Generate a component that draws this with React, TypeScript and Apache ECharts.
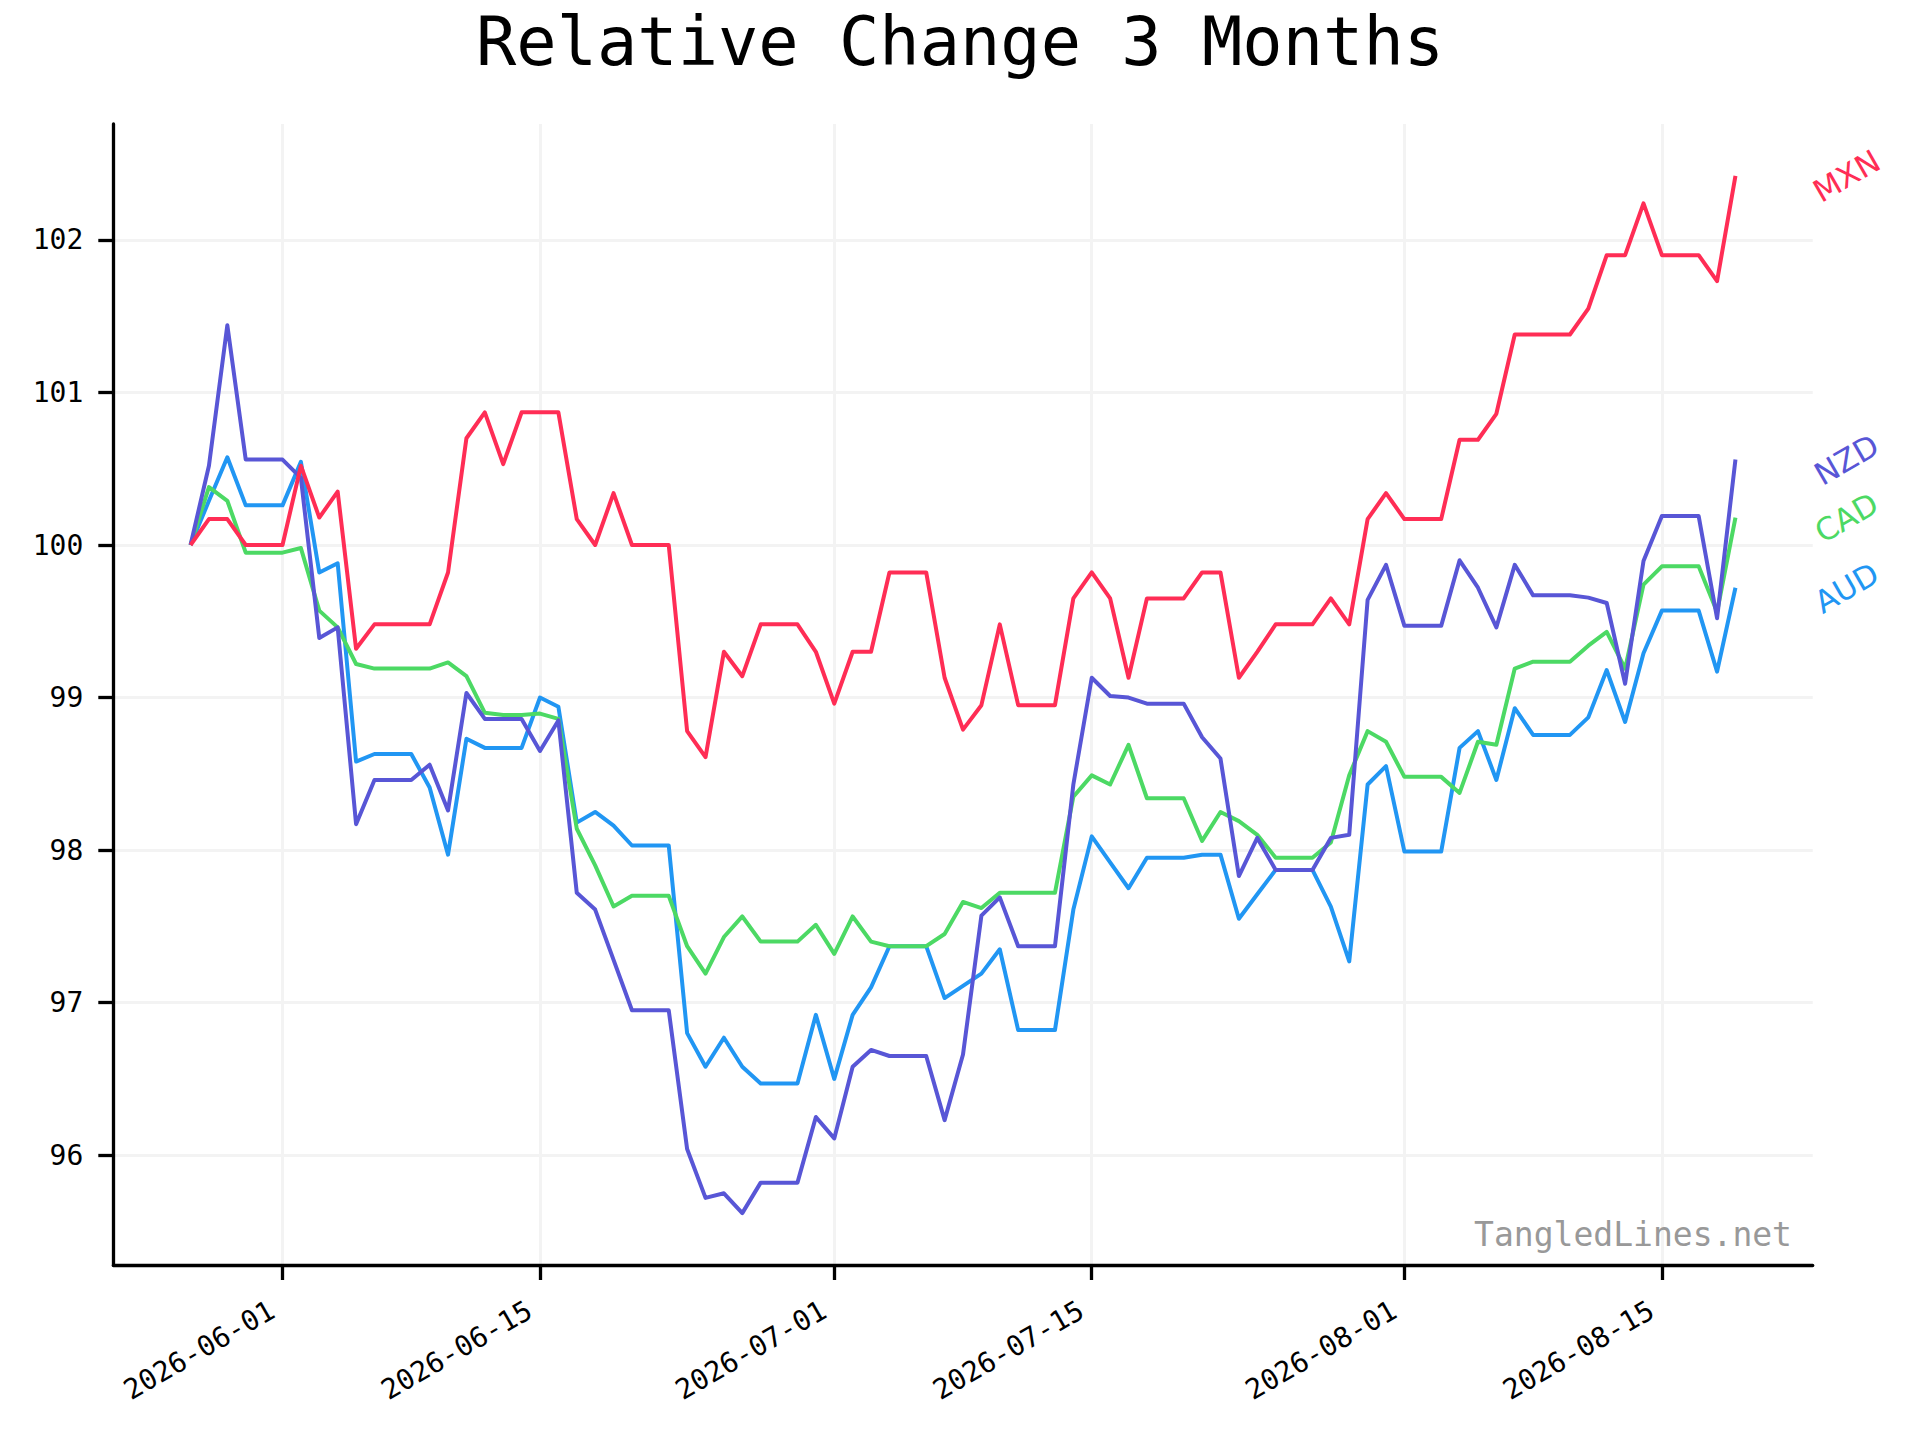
import React, { useEffect, useRef } from "react";
import * as echarts from "echarts";

// ---- data ----
const startDate = "2026-05-27"; // first observation (day index 0)
const tickDates = ["2026-06-01", "2026-06-15", "2026-07-01", "2026-07-15", "2026-08-01", "2026-08-15"];
const yTicks = [96, 97, 98, 99, 100, 101, 102];

const seriesNames = ["AUD", "CAD", "NZD", "MXN"];
const seriesColors = ["#2196F3", "#4CD964", "#5856D6", "#FF2D55"];

const mxn = [
  100.0, 100.17, 100.17, 100.0, 100.0, 100.0, 100.52, 100.18, 100.35, 99.32,
  99.48, 99.48, 99.48, 99.48, 99.82, 100.7, 100.87, 100.53, 100.87, 100.87,
  100.87, 100.17, 100.0, 100.34, 100.0, 100.0, 100.0, 98.78, 98.61, 99.3,
  99.14, 99.48, 99.48, 99.48, 99.3, 98.96, 99.3, 99.3, 99.82, 99.82,
  99.82, 99.13, 98.79, 98.95, 99.48, 98.95, 98.95, 98.95, 99.65, 99.82,
  99.65, 99.13, 99.65, 99.65, 99.65, 99.82, 99.82, 99.13, 99.3, 99.48,
  99.48, 99.48, 99.65, 99.48, 100.17, 100.34, 100.17, 100.17, 100.17, 100.69,
  100.69, 100.86, 101.38, 101.38, 101.38, 101.38, 101.55, 101.9, 101.9, 102.24,
  101.9, 101.9, 101.9, 101.73, 102.42,
];

const nzd = [
  100.0, 100.52, 101.44, 100.56, 100.56, 100.56, 100.44, 99.39, 99.46, 98.17,
  98.46, 98.46, 98.46, 98.56, 98.26, 99.03, 98.86, 98.86, 98.86, 98.65,
  98.85, 97.72, 97.61, 97.28, 96.95, 96.95, 96.95, 96.04, 95.72, 95.75,
  95.62, 95.82, 95.82, 95.82, 96.25, 96.11, 96.58, 96.69, 96.65, 96.65,
  96.65, 96.23, 96.66, 97.57, 97.69, 97.37, 97.37, 97.37, 98.43, 99.13,
  99.01, 99.0, 98.96, 98.96, 98.96, 98.74, 98.6, 97.83, 98.08, 97.87,
  97.87, 97.87, 98.08, 98.1, 99.64, 99.87, 99.47, 99.47, 99.47, 99.9,
  99.72, 99.46, 99.87, 99.67, 99.67, 99.67, 99.655, 99.62, 99.09, 99.895,
  100.19, 100.19, 100.19, 99.52, 100.56,
];

const cad = [
  100.0, 100.38, 100.29, 99.95, 99.95, 99.95, 99.98, 99.57, 99.46, 99.22,
  99.19, 99.19, 99.19, 99.19, 99.23, 99.14, 98.9, 98.885, 98.885, 98.895,
  98.86, 98.14, 97.9, 97.63, 97.7, 97.7, 97.7, 97.37, 97.19, 97.43,
  97.565, 97.4, 97.4, 97.4, 97.51, 97.32, 97.565, 97.4, 97.37, 97.37,
  97.37, 97.45, 97.66, 97.62, 97.72, 97.72, 97.72, 97.72, 98.35, 98.49,
  98.43, 98.69, 98.34, 98.34, 98.34, 98.06, 98.25, 98.19, 98.1, 97.95,
  97.95, 97.95, 98.05, 98.49, 98.78, 98.71, 98.48, 98.48, 98.48, 98.375,
  98.71, 98.69, 99.19, 99.235, 99.235, 99.235, 99.34, 99.43, 99.19, 99.74,
  99.86, 99.86, 99.86, 99.56, 100.18,
];

const aud = [
  100.0, 100.29, 100.575, 100.26, 100.26, 100.26, 100.545, 99.82, 99.88, 98.58,
  98.63, 98.63, 98.63, 98.41, 97.97, 98.73, 98.67, 98.67, 98.67, 99.0,
  98.94, 98.18, 98.25, 98.16, 98.03, 98.03, 98.03, 96.8, 96.58, 96.77,
  96.58, 96.47, 96.47, 96.47, 96.92, 96.5, 96.92, 97.1, 97.37, 97.37,
  97.37, 97.03, 97.11, 97.19, 97.35, 96.82, 96.82, 96.82, 97.61, 98.09,
  97.92, 97.75, 97.95, 97.95, 97.95, 97.97, 97.97, 97.55, 97.71, 97.87,
  97.87, 97.87, 97.63, 97.27, 98.43, 98.55, 97.99, 97.99, 97.99, 98.67,
  98.78, 98.46, 98.93, 98.755, 98.755, 98.755, 98.87, 99.18, 98.84, 99.29,
  99.57, 99.57, 99.57, 99.17, 99.72,
];

const seriesValues = [aud, cad, nzd, mxn];

// ---- helpers ----
const DAY = 86400000;
const startMs = Date.parse(startDate + "T00:00:00Z");
const dayIndex = (d: string) => Math.round((Date.parse(d + "T00:00:00Z") - startMs) / DAY);
const dateLabel = (idx: number) => new Date(startMs + Math.round(idx) * DAY).toISOString().slice(0, 10);
const tickIdx = tickDates.map(dayIndex);

const MONO = "DejaVu Sans Mono";

export default function App() {
  const ref = useRef<HTMLDivElement>(null);

  useEffect(() => {
    document.body.style.margin = "0";
    const el = ref.current;
    if (!el) return;
    const chart = echarts.init(el, undefined, { renderer: "svg" });

    const series = seriesNames.map((name, k) => ({
      name,
      type: "line",
      data: seriesValues[k].map((v, i) => [i, v]),
      showSymbol: false,
      symbol: "none",
      color: seriesColors[k],
      lineStyle: { width: 4, color: seriesColors[k], join: "round", cap: "butt" },
      emphasis: { disabled: true },
      z: 3 + k,
    }));

    const option: any = {
      animation: false,
      backgroundColor: "#ffffff",
      title: {
        text: "Relative Change 3 Months",
        left: "center",
        top: 3,
        textStyle: { fontFamily: MONO, fontSize: 67, fontWeight: "normal", color: "#000000" },
      },
      grid: { left: 113.3, right: 107.3, top: 124, bottom: 175, containLabel: false, outerBoundsMode: "none" },
      xAxis: {
        type: "value",
        min: -4.2,
        max: 88.2,
        axisLine: { show: true, onZero: false, lineStyle: { color: "#000000", width: 3.3 } },
        axisTick: { show: true, length: 15, customValues: tickIdx, lineStyle: { color: "#000000", width: 3.3 } },
        axisLabel: {
          customValues: tickIdx,
          formatter: (v: number) => dateLabel(v),
          rotate: 30,
          margin: 37,
          padding: [0, 12, 0, 0],
          fontFamily: MONO,
          fontSize: 28,
          color: "#000000",
        },
        splitLine: { show: true, lineStyle: { color: "#f3f3f3", width: 3 } },
      },
      yAxis: {
        type: "value",
        min: 95.28,
        max: 102.76,
        axisLine: { show: true, onZero: false, lineStyle: { color: "#000000", width: 3.3 } },
        axisTick: { show: true, length: 15, customValues: yTicks, lineStyle: { color: "#000000", width: 3.3 } },
        axisLabel: {
          customValues: yTicks,
          formatter: (v: number) => String(Math.round(v)),
          margin: 30,
          fontFamily: MONO,
          fontSize: 28,
          color: "#000000",
        },
        splitLine: { show: true, lineStyle: { color: "#f3f3f3", width: 3 } },
      },
      series,
    };

    chart.setOption(option);

    // labels at the right of each line end, positioned through the chart's scales
    const labels = seriesNames.map((name, k) => {
      const vals = seriesValues[k];
      const p = chart.convertToPixel({ gridIndex: 0 }, [vals.length - 1, vals[vals.length - 1]]) as number[];
      return {
        type: "text",
        x: p[0] + 111,
        y: p[1],
        rotation: Math.PI / 6,
        z: 10,
        style: {
          text: name,
          fill: seriesColors[k],
          fontFamily: "DejaVu Sans",
          fontSize: 31,
          align: "center",
          verticalAlign: "middle",
          textAlign: "center",
          textVerticalAlign: "middle",
        },
      };
    });

    chart.setOption({
      graphic: [
        ...labels,
        {
          type: "text",
          x: 1792,
          y: 1234,
          z: 10,
          style: {
            text: "TangledLines.net",
            fill: "#999999",
            fontFamily: MONO,
            fontSize: 33,
            align: "right",
            verticalAlign: "middle",
            textAlign: "right",
            textVerticalAlign: "middle",
          },
        },
      ],
    });

    return () => chart.dispose();
  }, []);

  return <div ref={ref} style={{ position: "absolute", left: 0, top: 0, width: 1920, height: 1440 }} />;
}
